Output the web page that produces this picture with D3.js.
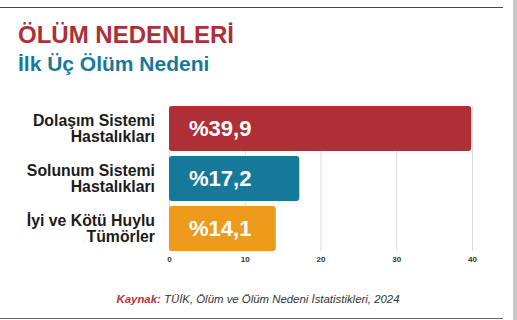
<html>
  <head>
    <meta charset="utf-8">
    <script src="https://cdn.jsdelivr.net/npm/d3@7"></script>
    <style>
      body { margin: 0; background: #fff; }
      text { font-family: "Liberation Sans", Arial, sans-serif; }
    </style>
  </head>
  <body>
    <script>
      var w = 517;
      var h = 320;

      var categories = [
        ["Dolaşım Sistemi", "Hastalıkları"],
        ["Solunum Sistemi", "Hastalıkları"],
        ["İyi ve Kötü Huylu", "Tümörler"]
      ];
      var values = [39.9, 17.2, 14.1];
      var barColors = ["#ae2f35", "#15799b", "#ee9a1c"];
      var tickValues = [0, 10, 20, 30, 40];

      var svg = d3.select("body")
                  .append("svg")
                    .attr("width", w)
                    .attr("height", h);

      // cadre
      svg.append("rect").attr("x", 513).attr("y", 0).attr("width", 4).attr("height", h).attr("fill", "#c8c8c8");
      svg.append("line").attr("x1", 0).attr("x2", 503).attr("y1", 7.5).attr("y2", 7.5)
         .attr("stroke", "#444").attr("stroke-width", 1);
      svg.append("line").attr("x1", 0).attr("x2", 503).attr("y1", 318.5).attr("y2", 318.5)
         .attr("stroke", "#666").attr("stroke-width", 1);

      // titres
      svg.append("text").attr("x", 18).attr("y", 43)
         .attr("font-size", 24).attr("font-weight", "bold").attr("fill", "#ad2f38")
         .text("ÖLÜM NEDENLERİ");
      svg.append("text").attr("x", 18).attr("y", 71)
         .attr("font-size", 21).attr("font-weight", "bold").attr("fill", "#17789a")
         .text("İlk Üç Ölüm Nedeni");

      var x = d3.scaleLinear().domain([0, 40]).range([169, 472]);
      var y = d3.scaleBand().domain(d3.range(values.length))
                .range([106, 251]).paddingInner(0.1).paddingOuter(0);

      // grille + axe
      var axis = svg.append("g")
         .attr("transform", "translate(0,251)")
         .call(d3.axisBottom(x).tickValues(tickValues).tickSize(-145).tickPadding(5));
      axis.select(".domain").remove();
      axis.selectAll(".tick line").attr("stroke", "#dcdcdc");
      axis.selectAll(".tick text")
          .attr("font-family", "Liberation Sans, Arial, sans-serif")
          .attr("font-size", 8).attr("font-weight", "bold").attr("fill", "#333");

      // barres
      svg.selectAll("rect.bar")
         .data(values)
         .enter()
         .append("rect")
            .attr("class", "bar")
            .attr("x", x(0))
            .attr("y", function(d, i) { return y(i); })
            .attr("width", function(d) { return x(d) - x(0); })
            .attr("height", y.bandwidth())
            .attr("rx", 3)
            .attr("fill", function(d, i) { return barColors[i]; });

      // valeurs
      svg.selectAll("text.val")
         .data(values)
         .enter()
         .append("text")
            .attr("class", "val")
            .attr("x", x(0) + 20)
            .attr("y", function(d, i) { return y(i) + y.bandwidth() / 2; })
            .attr("dy", ".36em")
            .attr("font-size", 22).attr("font-weight", "bold").attr("fill", "#fff")
            .text(function(d) { return "%" + d3.format(".1f")(d).replace(".", ","); });

      // libellés
      var lab = svg.selectAll("text.cat")
         .data(categories)
         .enter()
         .append("text")
            .attr("class", "cat")
            .attr("text-anchor", "end")
            .attr("font-size", 15.8).attr("font-weight", "bold").attr("fill", "#1b1b1b")
            .attr("y", function(d, i) { return y(i) + y.bandwidth() / 2; });
      lab.selectAll("tspan")
         .data(function(d) { return d; })
         .enter()
         .append("tspan")
            .attr("x", 155)
            .attr("dy", function(d, j) { return j == 0 ? "-3" : "16"; })
            .text(function(d) { return d; });

      // source
      var src = svg.append("text").attr("x", 258).attr("y", 303)
         .attr("text-anchor", "middle").attr("font-size", 11.4).attr("font-style", "italic");
      src.append("tspan").attr("font-weight", "bold").attr("fill", "#b8323c").text("Kaynak: ");
      src.append("tspan").attr("fill", "#333").text("TÜİK, Ölüm ve Ölüm Nedeni İstatistikleri, 2024");
    </script>
  </body>
</html>
